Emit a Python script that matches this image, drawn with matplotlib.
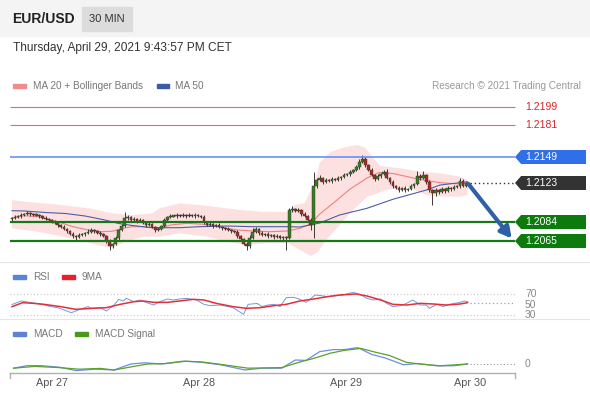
import matplotlib
matplotlib.use("Agg")
import matplotlib.pyplot as plt
import matplotlib.transforms as mtransforms
from matplotlib.patches import Rectangle, Polygon

plt.rcParams['font.family'] = ['Liberation Sans', 'DejaVu Sans']

W, H = 590, 400

# EUR/USD 30 min candles, prices in pips above 1.2000
first_open = 87
closes = [88, 89, 90, 91, 92, 93, 92, 91, 91, 90,
          88, 87, 86, 84, 83, 81, 79, 77, 75, 72,
          70, 69, 71, 72, 73, 74, 76, 75, 73, 72,
          70, 65, 60, 62, 68, 76, 80, 88, 89, 86,
          87, 85, 86, 83, 81, 82, 79, 76, 77, 80,
          86, 89, 90, 90, 91, 90, 91, 90, 91, 90,
          91, 90, 89, 84, 81, 82, 80, 81, 79, 78,
          77, 76, 75, 74, 70, 67, 62, 60, 68, 74,
          77, 73, 71, 72, 70, 71, 69, 70, 68, 69,
          68, 96, 97, 95, 96, 92, 90, 86, 81, 120,
          126, 128, 124, 126, 125, 127, 126, 128, 129, 131,
          132, 134, 136, 139, 144, 147, 141, 136, 131, 127,
          130, 132, 134, 128, 124, 120, 118, 116, 118, 116,
          117, 120, 122, 130, 128, 131, 124, 116, 113, 116,
          114, 117, 115, 118, 117, 119, 120, 125, 120, 123]
up_wick = [1, 2, 1, 2, 1, 2, 1, 1, 2, 1,
           1, 2, 1, 1, 2, 1, 1, 2, 1, 1,
           2, 1, 2, 1, 1, 3, 2, 1, 1, 2,
           1, 1, 2, 1, 2, 1, 2, 6, 2, 1,
           2, 1, 2, 1, 1, 2, 1, 1, 2, 1,
           2, 1, 2, 1, 2, 1, 2, 1, 2, 1,
           2, 1, 1, 2, 1, 2, 1, 1, 2, 1,
           1, 2, 1, 1, 2, 1, 1, 2, 3, 4,
           2, 1, 2, 1, 2, 1, 1, 2, 1, 1,
           1, 2, 3, 1, 2, 1, 2, 1, 2, 14,
           2, 3, 1, 2, 1, 2, 1, 2, 1, 2,
           1, 2, 1, 2, 3, 4, 2, 1, 2, 1,
           2, 1, 2, 3, 1, 2, 1, 2, 1, 2,
           1, 2, 1, 5, 2, 4, 1, 2, 1, 2,
           1, 2, 1, 2, 1, 2, 1, 3, 2, 1]
dn_wick = [2, 1, 1, 2, 1, 1, 2, 1, 1, 2,
           1, 1, 2, 1, 1, 2, 1, 1, 2, 1,
           2, 3, 1, 1, 2, 1, 1, 2, 1, 2,
           1, 2, 4, 2, 1, 2, 1, 1, 2, 1,
           1, 2, 1, 1, 2, 1, 1, 2, 1, 1,
           1, 2, 1, 1, 2, 1, 1, 2, 1, 1,
           2, 1, 1, 2, 1, 1, 2, 1, 1, 2,
           1, 1, 2, 1, 2, 2, 1, 4, 2, 1,
           1, 2, 1, 1, 2, 1, 2, 1, 1, 2,
           12, 1, 2, 1, 1, 2, 1, 2, 5, 13,
           2, 1, 2, 1, 1, 2, 1, 1, 2, 1,
           1, 2, 1, 1, 2, 1, 2, 1, 1, 2,
           1, 2, 1, 1, 2, 2, 1, 2, 1, 2,
           1, 1, 2, 1, 2, 1, 2, 2, 12, 3,
           2, 1, 2, 1, 2, 1, 1, 2, 1, 1]

# moving averages and bands (candle index, pips)
ma20_x = [0, 4, 8.5, 15, 20, 25, 29.5, 33, 36, 39.5, 43, 46, 48.5, 52, 57.5, 62.5, 67.5,
          74, 79, 84.5, 90.5, 94.5, 98, 101, 105.5, 111, 116.5, 120.5, 125, 129.5, 134, 140.5, 147, 149.5]
ma20_y = [87.7, 90.3, 89.3, 84.3, 79.3, 76, 74.3, 74.8, 77.5, 79.3, 79.3, 78.3, 77.7, 81, 82.7, 81.7, 79.3,
          76, 75, 74.3, 75, 77.7, 82, 92, 103, 117, 128, 133.5, 132.5, 129.5, 126.5, 123.3, 122, 122.7]
ma50_x = [0, 4, 11, 17.5, 24, 30.5, 35, 39.5, 46, 55, 61.5, 70.5, 79, 90.5, 94.5, 101, 107.5,
          116.5, 125, 136, 140.5, 147, 149.5]
ma50_y = [95.3, 95, 93.5, 92.5, 90, 86, 82.5, 80.5, 78.3, 78.3, 79.3, 80, 79.3, 79.3, 79, 83, 91,
          97.7, 106.7, 116, 121, 123.3, 124.3]
bb_up_x = [0, 4, 14, 25, 33, 39.5, 46, 48.5, 55, 61.5, 70.5, 75, 81.5, 90.5, 93, 96, 99, 101,
           104.5, 109.5, 113.5, 116, 118.5, 121, 127.5, 134, 140.5, 147, 149.5]
bb_up_y = [106, 104.3, 101.7, 97.7, 92.7, 91, 92.7, 97.7, 102.7, 101, 97.7, 96, 94.3, 94, 101, 103, 121, 143,
           154, 159, 161, 158, 148, 140, 137.7, 134.3, 132.7, 129.3, 126]
bb_lo_x = [0, 8.5, 19.5, 28, 33, 37, 43.5, 48.5, 55, 64, 70.5, 77, 83.5, 90.5, 94.5, 98, 100.5,
           102.5, 105.5, 111, 116.5, 123, 129.5, 136, 140.5, 147, 149.5]
bb_lo_y = [77.7, 74.3, 67.7, 61, 57.7, 64.3, 69.3, 69.3, 72.7, 69.3, 64.3, 61, 62.7, 63, 56, 50, 54,
           64, 74, 93, 109, 116, 119.3, 111, 109.3, 109.3, 111]

# key levels
resist_red = [1.2199, 1.2181]
resist_blue = 1.2149
last_price = 1.2123
support_green = [1.2084, 1.2065]

# RSI and its 9 period MA
rsi_x = [0, 3, 6, 10, 12.5, 15, 18, 19.5, 22.5, 25, 26, 29, 31, 33.5, 35, 36.5, 37.5, 40, 42, 44,
         46.5, 48.5, 51, 53, 55, 57.5, 60.5, 63, 65, 68.5, 72.5, 76, 77.5, 80.5, 82, 84, 86, 88, 90,
         92.5, 94.5, 96.5, 99.5, 101.5, 103.5, 105.5, 108.5, 112, 114, 116.5, 118.5, 121, 123, 125,
         127.5, 129.5, 131.5, 134, 136, 137, 139.5, 141.5, 143.5, 147, 148.5, 149.5]
rsi_y = [50, 56.7, 54, 50.3, 46, 44, 37.6, 34.4, 41.4, 46, 42.7, 44, 37.6, 49, 59.8, 56.7, 61.7, 55.4, 58.6, 54,
         49, 55.4, 60.5, 58.6, 60.5, 61.7, 58.6, 50.3, 47.8, 49, 44, 31.3, 50.3, 52, 46, 49, 50.3, 46, 63,
         63.7, 59.8, 54, 68, 66.8, 65, 66.2, 68, 73.2, 69.4, 61.7, 58.6, 60.5, 52.2, 46,
         47.8, 52.2, 58.6, 49, 49, 42.7, 50.3, 46, 50.3, 54, 56.7, 55.4]
rsi_ma_x = [0, 3.5, 7, 10.5, 16, 21, 26.5, 31, 35.5, 40, 43, 46.5, 51, 55, 59.5, 63, 67, 72.5, 77,
            81.5, 86, 90, 94.5, 99, 103.5, 107.5, 113, 116.5, 121, 125, 129.5, 134, 138.5, 142.5, 147, 149.5]
rsi_ma_y = [45.9, 53.5, 52.2, 50.3, 45.9, 40.8, 42.7, 44, 50.3, 55.4, 56.7, 54.1, 54.1, 56.7, 59.8, 58.6, 52.2,
            45.9, 42.7, 44, 47.8, 50.3, 56.7, 60.5, 64.9, 68.1, 70, 66.2, 58.6, 50.3, 49, 52.2, 50.9, 49, 50.9, 53.5]
rsi_last = 53

# MACD (pips)
macd_x = [0.5, 5, 9.5, 15.5, 21, 27.5, 33.5, 39, 43.5, 49, 56, 61.5, 68.5, 76.5, 82, 88.5, 93, 96.5,
          101, 105.5, 109, 113.5, 118, 122.5, 128.5, 133, 139.5, 145, 149.5]
macd_y = [-1.05, -0.4, -0.4, -0.8, -1.65, -1.3, -1.5, 0, 0.3, 0, 0.7, 0.5, -0.2, -1.5, -1.05, -1.05, 1.0, 0.9,
          3.1, 3.6, 3.6, 4.1, 2.4, 1.5, -0.2, 0.1, -0.45, -0.45, 0]
signal_x = [0.5, 7.5, 15.5, 22, 29, 33.5, 40, 44.5, 50.5, 57, 62.5, 69.5, 77.5, 88.5, 94.5, 99, 104.5,
            109, 114.5, 119, 124, 129.5, 134, 140.5, 149.5]
signal_y = [-1.05, -0.6, -0.9, -1.3, -1.1, -1.5, -0.6, 0, 0.1, 0.7, 0.5, -0.2, -1.05, -0.9, 0.5, 1.4, 2.7,
            3.4, 3.9, 3.0, 2.1, 0.4, 0, -0.45, 0]

tick_pos = [13, 61.4, 109.6, 150.3]
tick_labels = ['Apr 27', 'Apr 28', 'Apr 29', 'Apr 30']

# layout: candle i sits at pixel 12 + 3.047 * i
CANDLE_PX = 3.047
X_LEFT = -12 / CANDLE_PX
X_RIGHT = (W - 12) / CANDLE_PX
LINE_START = (10 - 12) / CANDLE_PX
LINE_END = (515 - 12) / CANDLE_PX
TAG_END = (586 - 12) / CANDLE_PX
LABEL_X = (525 - 12) / CANDLE_PX
LAST_X = len(closes) - 1 + 1.3

GREEN = '#17781a'
GRAY_TXT = '#777777'

fig = plt.figure(figsize=(W / 100, H / 100), dpi=100)
fig.patch.set_facecolor('white')


def fig_rect(x, y, w, h, color):
    fig.patches.append(Rectangle((x / W, 1 - (y + h) / H), w / W, h / H,
                                 transform=fig.transFigure, color=color, zorder=0))


def fig_text(x, y, s, **kw):
    fig.text(x / W, 1 - y / H, s, va='center', **kw)


def fig_hline(y, color):
    fig.lines.append(plt.Line2D([0, 1], [1 - y / H, 1 - y / H], transform=fig.transFigure,
                                color=color, lw=0.8))


def px_axes(top, bottom, ylim):
    ax = fig.add_axes([0, 1 - bottom / H, 1, (bottom - top) / H])
    ax.set_xlim(X_LEFT, X_RIGHT)
    ax.set_ylim(*ylim)
    ax.axis('off')
    return ax


def tag(ax, y, text, color):
    h, tip = 7, 2.0
    poly = Polygon([(LINE_END, y), (LINE_END + tip, y + h), (TAG_END, y + h),
                    (TAG_END, y - h), (LINE_END + tip, y - h)], closed=True,
                   fc=color, ec='none', zorder=6, clip_on=False)
    ax.add_patch(poly)
    ax.text(LABEL_X, y, text, color='white', fontsize=7.5, va='center', ha='left', zorder=7)


def pips(p):
    return (p - 1.2) * 10000


# header
fig_rect(0, 0, W, 36, '#f4f4f4')
fig_rect(82, 7, 50, 24, '#dcdcdc')
fig_text(12, 19, 'EUR/USD', fontsize=10, fontweight='bold', color='#222222')
fig_text(107, 19, '30 MIN', fontsize=8, color='#333333', ha='center')
fig_text(13, 48, 'Thursday, April 29, 2021 9:43:57 PM CET', fontsize=8.6, color='#333333')

# legends
fig_rect(13, 84, 13, 4, '#f28b8b')
fig_text(33, 86, 'MA 20 + Bollinger Bands', fontsize=7.2, color=GRAY_TXT)
fig_rect(157, 84, 12, 4, '#3b5ba5')
fig_text(175, 86, 'MA 50', fontsize=7.2, color=GRAY_TXT)
fig_text(581, 86, 'Research \u00a9 2021 Trading Central', fontsize=7.2, color='#999999', ha='right')
fig_rect(13, 275, 13, 4, '#5b84d6')
fig_text(33, 277, 'RSI', fontsize=7.2, color=GRAY_TXT)
fig_rect(62, 275, 13, 4, '#e8202a')
fig_text(82, 277, '9MA', fontsize=7.2, color=GRAY_TXT)
fig_rect(13, 332, 13, 4, '#5b84d6')
fig_text(33, 334, 'MACD', fontsize=7.2, color=GRAY_TXT)
fig_rect(75, 332, 13, 4, '#4a9a1a')
fig_text(95, 334, 'MACD Signal', fontsize=7.2, color=GRAY_TXT)

fig_hline(262, '#e6e6e6')
fig_hline(319, '#e6e6e6')

# price panel: 1 pixel = 1 pip
ax = px_axes(95, 262, (44, 211))
band = list(zip(bb_up_x, bb_up_y)) + list(zip(bb_lo_x[::-1], bb_lo_y[::-1]))
ax.add_patch(Polygon(band, closed=True, fc='#fde1e1', ec='none', zorder=1))
ax.plot(ma20_x, ma20_y, color='#f08080', lw=0.8, zorder=2)
ax.plot(ma50_x, ma50_y, color='#4a5fa8', lw=0.8, zorder=2)

opens = [first_open] + closes[:-1]
for i, (o, c) in enumerate(zip(opens, closes)):
    lo, hi = min(o, c), max(o, c)
    ax.vlines(i, lo - dn_wick[i], hi + up_wick[i], color='#3a3a3a', lw=0.7, zorder=3)
    col = '#3b7d23' if c >= o else '#ad2a22'
    ax.bar(i, max(hi - lo, 1.2), bottom=lo if hi > lo else lo - 0.6, width=0.85,
           color=col, edgecolor='#2f2f2f', lw=0.3, zorder=3.5)

for lvl in resist_red:
    ax.hlines(pips(lvl), LINE_START, LINE_END, color='#ea6a6a', lw=0.8, zorder=4)
    ax.text(LABEL_X, pips(lvl), f'{lvl:.4f}', color='#d42424', fontsize=7.5, va='center')
ax.hlines(pips(resist_blue), LINE_START, LINE_END, color='#5b8af5', lw=1.1, zorder=4)
tag(ax, pips(resist_blue), f'{resist_blue:.4f}', '#2f6fe8')
ax.hlines(pips(last_price), LAST_X, LINE_END, color='#333333', lw=1.0, linestyles=(0, (1, 2)), zorder=4)
tag(ax, pips(last_price), f'{last_price:.4f}', '#333333')
for lvl in support_green:
    ax.hlines(pips(lvl), LINE_START, LINE_END, color=GREEN, lw=1.6, zorder=4)
    tag(ax, pips(lvl), f'{lvl:.4f}', '#0d7a0d')

ax.annotate('', xy=(164, pips(support_green[1]) + 2.5), xytext=(LAST_X - 0.5, pips(last_price) - 1),
            arrowprops=dict(arrowstyle='-|>,head_length=0.65,head_width=0.35', lw=3.0,
                            color='#2f5fa7', shrinkA=0, shrinkB=0), zorder=5)

# RSI panel: 70 at y=294, 30 at y=315
rax = px_axes(280, 318, (24.29, 96.67))
for lvl in (70, 30):
    rax.hlines(lvl, LINE_START, LINE_END, color='#c8c8c8', lw=0.8, linestyles=(0, (1, 2)))
rax.plot(rsi_x, rsi_y, color='#7a96dc', lw=0.7, zorder=3)
rax.plot(rsi_ma_x, rsi_ma_y, color='#e0303a', lw=1.1, zorder=4)
rax.hlines(rsi_last, LAST_X, LINE_END, color='#8ea3d6', lw=0.9, linestyles=(0, (1, 2)))
for lvl in (70, 50, 30):
    rax.text(LABEL_X, lvl, str(lvl), color='#888888', fontsize=7.5, va='center', clip_on=False)

# MACD panel: zero at y=364, 4 px per pip
max_ = px_axes(340, 373, (-2.25, 6))
max_.plot(macd_x, macd_y, color='#6f8fdc', lw=0.9, zorder=3)
max_.plot(signal_x, signal_y, color='#5aa02c', lw=0.9, zorder=3)
max_.hlines(0, LAST_X, LINE_END, color='#999999', lw=0.8, linestyles=(0, (1, 2)))
max_.text(LABEL_X, 0, '0', color='#888888', fontsize=7.5, va='center')

# time axis
trans = mtransforms.blended_transform_factory(max_.transData, fig.transFigure)
y_axis = 1 - 373 / H
fig.lines.append(plt.Line2D([LINE_START, LINE_END], [y_axis, y_axis], transform=trans,
                            color='#b0b0b0', lw=1.0))
for xe in (LINE_START, LINE_END):
    fig.lines.append(plt.Line2D([xe, xe], [y_axis, 1 - 378 / H], transform=trans,
                                color='#b0b0b0', lw=1.0))
for pos, lab in zip(tick_pos, tick_labels):
    fig.text(pos, 1 - 383 / H, lab, transform=trans, ha='center', va='center',
             fontsize=7.8, color='#555555')

fig.savefig('out.png', dpi=100)
